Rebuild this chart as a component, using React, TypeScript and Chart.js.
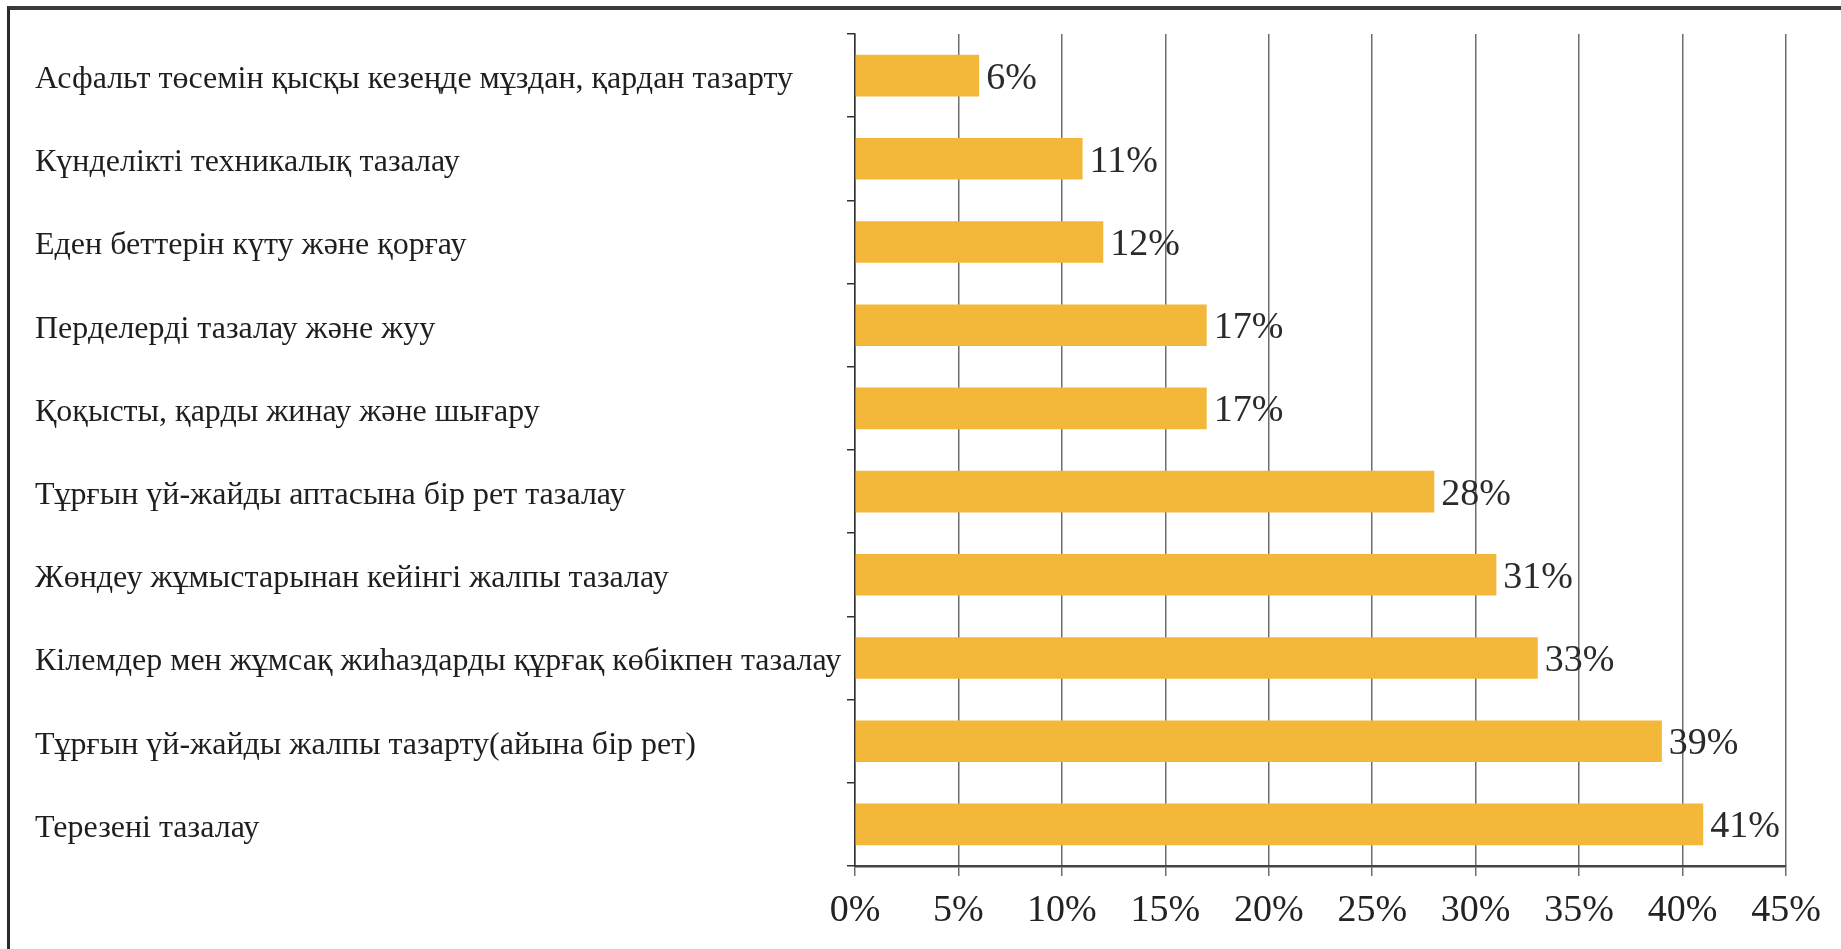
import React, { useEffect, useRef } from "react";
import { Chart, registerables } from "chart.js";

Chart.register(...registerables);

const categories: string[] = [
  "Асфальт төсемін қысқы кезеңде мұздан, қардан тазарту",
  "Күнделікті техникалық тазалау",
  "Еден беттерін күту және қорғау",
  "Перделерді тазалау және жуу",
  "Қоқысты, қарды жинау және шығару",
  "Тұрғын үй-жайды аптасына бір рет тазалау",
  "Жөндеу жұмыстарынан кейінгі жалпы тазалау",
  "Кілемдер мен жұмсақ жиһаздарды құрғақ көбікпен тазалау",
  "Тұрғын үй-жайды жалпы тазарту(айына бір рет)",
  "Терезені тазалау",
];

const values: number[] = [6, 11, 12, 17, 17, 28, 31, 33, 39, 41];

const xTickValues: number[] = [0, 5, 10, 15, 20, 25, 30, 35, 40, 45];

const SERIF = "'Liberation Serif', 'Times New Roman', serif";

const valueLabelPlugin = {
  id: "valueLabels",
  afterDatasetsDraw(chart: any) {
    const ctx = chart.ctx;
    const meta = chart.getDatasetMeta(0);
    ctx.save();
    ctx.font = `38px ${SERIF}`;
    ctx.fillStyle = "#2a2a2a";
    ctx.textAlign = "left";
    ctx.textBaseline = "middle";
    meta.data.forEach((bar: any, i: number) => {
      const v = chart.data.datasets[0].data[i];
      ctx.fillText(`${v}%`, bar.x + 7, bar.y + 3);
    });
    ctx.restore();
  },
};

export default function App() {
  const canvasRef = useRef<HTMLCanvasElement | null>(null);

  useEffect(() => {
    if (!canvasRef.current) return;
    const chart = new Chart(canvasRef.current, {
      type: "bar",
      data: {
        labels: categories,
        datasets: [
          {
            data: values,
            backgroundColor: "#F3B739",
            borderWidth: 0,
            barPercentage: 0.5,
            categoryPercentage: 1,
          },
        ],
      },
      options: {
        indexAxis: "y",
        animation: false,
        responsive: false,
        maintainAspectRatio: false,
        layout: { padding: { left: 35, top: 34, right: 55, bottom: 0 } },
        plugins: {
          legend: { display: false },
          tooltip: { enabled: false },
          title: { display: false },
        },
        scales: {
          x: {
            type: "linear",
            min: 0,
            max: 45,
            afterBuildTicks(scale: any) {
              scale.ticks = xTickValues.map((v) => ({ value: v }));
            },
            afterFit(scale: any) {
              scale.height = 83;
            },
            ticks: {
              callback: (v: any) => `${v}%`,
              font: { family: SERIF, size: 38 },
              color: "#222",
              padding: 12,
              maxRotation: 0,
              autoSkip: false,
            },
            grid: {
              color: "#6e6e6e",
              lineWidth: 1.5,
              drawTicks: true,
              tickLength: 10,
            },
            border: { display: true, color: "#444", width: 2.5 },
          },
          y: {
            type: "category",
            offset: true,
            afterFit(scale: any) {
              scale.width = 855 - 35;
            },
            ticks: {
              crossAlign: "far",
              font: { family: SERIF, size: 32 },
              color: "#1e1e1e",
              padding: 10,
              labelOffset: 4,
              autoSkip: false,
            },
            grid: {
              offset: true,
              drawOnChartArea: false,
              drawTicks: true,
              tickLength: 8,
              color: "#333",
              lineWidth: 1.5,
            },
            border: { display: true, color: "#333", width: 1.5 },
          },
        },
      },
      plugins: [valueLabelPlugin],
    });
    return () => chart.destroy();
  }, []);

  return (
    <div
      style={{
        position: "fixed",
        left: 0,
        top: 0,
        width: 1841,
        height: 949,
        background: "#fff",
      }}
    >
      <canvas
        ref={canvasRef}
        width={1841}
        height={949}
        style={{ position: "absolute", left: 0, top: 0, width: 1841, height: 949 }}
      />
      <div
        style={{
          position: "absolute",
          left: 7,
          top: 6,
          width: 1834,
          height: 943,
          borderTop: "4px solid #3a3a3a",
          borderLeft: "3px solid #2a2a2a",
          boxSizing: "border-box",
        }}
      />
    </div>
  );
}
